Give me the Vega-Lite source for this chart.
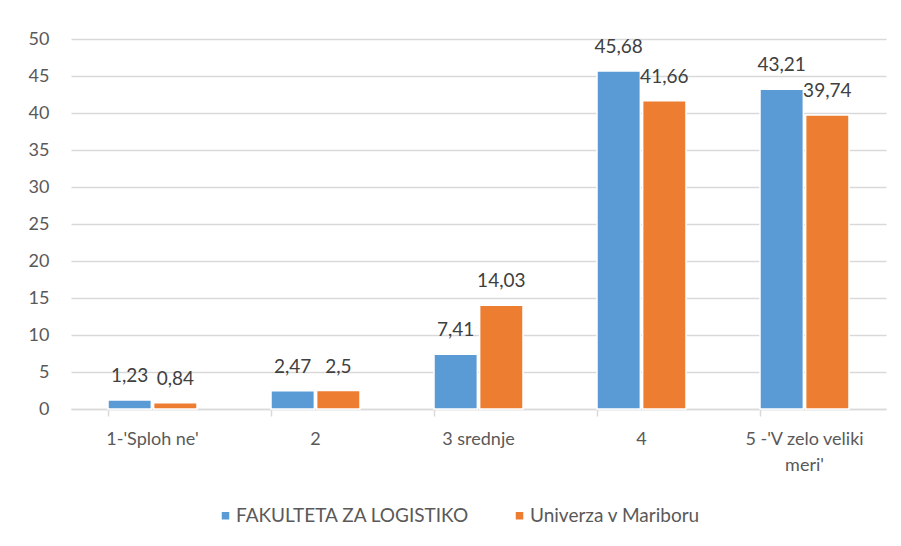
{
  "$schema": "https://vega.github.io/schema/vega-lite/v6.json",
  "autosize": {"type": "none"},
  "width": 815,
  "height": 370,
  "padding": {"left": 71, "top": 39, "right": 15, "bottom": 137},
  "config": {
    "font": "Lato",
    "view": {"stroke": null}
  },
  "data": {
    "values": [
      {"kategorija": "1-'Sploh ne'", "skupina": "FAKULTETA ZA LOGISTIKO", "delez": 1.23},
      {"kategorija": "1-'Sploh ne'", "skupina": "Univerza v Mariboru", "delez": 0.84},
      {"kategorija": "2", "skupina": "FAKULTETA ZA LOGISTIKO", "delez": 2.47},
      {"kategorija": "2", "skupina": "Univerza v Mariboru", "delez": 2.5},
      {"kategorija": "3 srednje", "skupina": "FAKULTETA ZA LOGISTIKO", "delez": 7.41},
      {"kategorija": "3 srednje", "skupina": "Univerza v Mariboru", "delez": 14.03},
      {"kategorija": "4", "skupina": "FAKULTETA ZA LOGISTIKO", "delez": 45.68},
      {"kategorija": "4", "skupina": "Univerza v Mariboru", "delez": 41.66},
      {"kategorija": "5 -'V zelo veliki meri'", "skupina": "FAKULTETA ZA LOGISTIKO", "delez": 43.21},
      {"kategorija": "5 -'V zelo veliki meri'", "skupina": "Univerza v Mariboru", "delez": 39.74}
    ]
  },
  "encoding": {
    "x": {
      "field": "kategorija",
      "type": "nominal",
      "sort": null,
      "scale": {"paddingInner": 0.454, "paddingOuter": 0.227},
      "axis": {
        "title": null,
        "labelAngle": 0,
        "labelFontSize": 18,
        "labelColor": "#595959",
        "labelPadding": 14,
        "labelLineHeight": 26,
        "labelBaseline": "top",
        "labelExpr": "indexof(datum.value, 'zelo') > 0 ? [\"5 -'V zelo veliki\", \"meri'\"] : datum.value",
        "domainColor": "#d9d9d9",
        "domainWidth": 1.5,
        "tickColor": "#d9d9d9",
        "tickWidth": 1.5,
        "tickSize": 7,
        "bandPosition": 0,
        "grid": false
      }
    },
    "xOffset": {
      "field": "skupina",
      "type": "nominal",
      "scale": {"paddingInner": 0.05, "paddingOuter": 0}
    },
    "y": {
      "field": "delez",
      "type": "quantitative",
      "scale": {"domain": [0, 50], "nice": false},
      "axis": {
        "title": null,
        "values": [0, 5, 10, 15, 20, 25, 30, 35, 40, 45, 50],
        "domain": false,
        "ticks": false,
        "labelFontSize": 18,
        "labelColor": "#595959",
        "labelPadding": 22,
        "gridColor": "#d9d9d9",
        "gridWidth": 1.5
      }
    }
  },
  "layer": [
    {
      "mark": {"type": "bar", "stroke": "white", "strokeWidth": 1.5},
      "encoding": {
        "color": {
          "field": "skupina",
          "type": "nominal",
          "scale": {"domain": ["FAKULTETA ZA LOGISTIKO", "Univerza v Mariboru"], "range": ["#5B9BD5", "#ED7D31"]},
          "legend": {
            "title": null,
            "orient": "none",
            "direction": "horizontal",
            "legendX": 145,
            "legendY": 467,
            "symbolType": "square",
            "symbolSize": 81,
            "labelFontSize": 19,
            "labelColor": "#595959",
            "labelOffset": 1,
            "labelLimit": 400,
            "columnPadding": 40
          }
        }
      }
    },
    {
      "mark": {
        "type": "text",
        "baseline": "bottom",
        "align": "center",
        "dy": -14,
        "fontSize": 19,
        "color": "#404040",
        "text": {"expr": "replace(format(datum.delez, '.2~f'), '.', ',')"}
      },
      "encoding": {}
    }
  ]
}
